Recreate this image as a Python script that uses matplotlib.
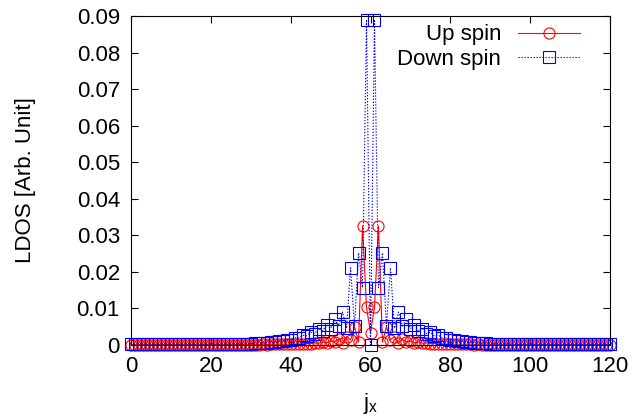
"""LDOS along j_x for up and down spin (gnuplot style figure)."""

import matplotlib
matplotlib.use("Agg")
import matplotlib.pyplot as plt
import numpy as np

# site index along x
j_x = np.arange(0, 121)

# up spin LDOS
up_spin = [
    0.0001, 0.0001, 0.0001, 0.0001, 0.0001, 0.0001, 0.0001, 0.0001, 0.0001, 0.0001,
    0.0001, 0.0001, 0.0001, 0.0001, 0.0001, 0.0001, 0.0001, 0.0001, 0.0001, 0.0001,
    0.0001, 0.0001, 0.0001, 0.0001, 0.0001, 0.0001, 0.0001, 0.0001, 0.0001, 0.0001,
    0.0001, 0.0001, 0.0001, 0.0002, 0.0001, 0.0002, 0.0002, 0.0002, 0.0002, 0.0002,
    0.0002, 0.0002, 0.0003, 0.0003, 0.0004, 0.0004, 0.0006, 0.0005, 0.0008, 0.0006,
    0.0011, 0.0009, 0.0016, 0.0005, 0.0023, 0.0014, 0.0050, 0.0008, 0.0325, 0.0103,
    0.0034,
    0.0103, 0.0325, 0.0008, 0.0050, 0.0014, 0.0023, 0.0005, 0.0016, 0.0009, 0.0011,
    0.0006, 0.0008, 0.0005, 0.0006, 0.0004, 0.0004, 0.0003, 0.0003, 0.0002, 0.0002,
    0.0002, 0.0002, 0.0002, 0.0002, 0.0002, 0.0001, 0.0002, 0.0001, 0.0001, 0.0001,
    0.0001, 0.0001, 0.0001, 0.0001, 0.0001, 0.0001, 0.0001, 0.0001, 0.0001, 0.0001,
    0.0001, 0.0001, 0.0001, 0.0001, 0.0001, 0.0001, 0.0001, 0.0001, 0.0001, 0.0001,
    0.0001, 0.0001, 0.0001, 0.0001, 0.0001, 0.0001, 0.0001, 0.0001, 0.0001, 0.0001,
]

# down spin LDOS
down_spin = [
    0.0002, 0.0002, 0.0002, 0.0002, 0.0002, 0.0002, 0.0002, 0.0002, 0.0002, 0.0002,
    0.0002, 0.0002, 0.0002, 0.0002, 0.0002, 0.0002, 0.0002, 0.0002, 0.0002, 0.0002,
    0.0002, 0.0002, 0.0002, 0.0002, 0.0002, 0.0003, 0.0003, 0.0003, 0.0003, 0.0004,
    0.0004, 0.0005, 0.0005, 0.0006, 0.0006, 0.0008, 0.0008, 0.0011, 0.0011, 0.0015,
    0.0014, 0.0020, 0.0019, 0.0027, 0.0025, 0.0035, 0.0031, 0.0045, 0.0038, 0.0056,
    0.0045, 0.0070, 0.0052, 0.0090, 0.0046, 0.0211, 0.0052, 0.0252, 0.0157, 0.0890,
    0.0,
    0.0890, 0.0157, 0.0252, 0.0052, 0.0211, 0.0046, 0.0090, 0.0052, 0.0070, 0.0045,
    0.0056, 0.0038, 0.0045, 0.0031, 0.0035, 0.0025, 0.0027, 0.0019, 0.0020, 0.0014,
    0.0015, 0.0011, 0.0011, 0.0008, 0.0008, 0.0006, 0.0006, 0.0005, 0.0005, 0.0004,
    0.0004, 0.0003, 0.0003, 0.0003, 0.0003, 0.0002, 0.0002, 0.0002, 0.0002, 0.0002,
    0.0002, 0.0002, 0.0002, 0.0002, 0.0002, 0.0002, 0.0002, 0.0002, 0.0002, 0.0002,
    0.0002, 0.0002, 0.0002, 0.0002, 0.0002, 0.0002, 0.0002, 0.0002, 0.0002, 0.0002,
]

x_ticks = [0, 20, 40, 60, 80, 100, 120]
y_ticks = [0, 0.01, 0.02, 0.03, 0.04, 0.05, 0.06, 0.07, 0.08, 0.09]
y_tick_labels = ["0", "0.01", "0.02", "0.03", "0.04", "0.05", "0.06", "0.07", "0.08", "0.09"]

plt.rcParams["font.family"] = ["Liberation Sans", "DejaVu Sans"]
plt.rcParams["font.size"] = 16

fig = plt.figure(figsize=(6.34, 4.2), dpi=100)
ax = fig.add_axes([131 / 634, 1 - 345 / 420, 479 / 634, 329 / 420])

ax.plot(j_x, up_spin, color="#ff0000", linestyle="-", linewidth=0.8,
        marker="o", markersize=8, markerfacecolor="none",
        markeredgewidth=0.8, clip_on=False, label="Up spin")
ax.plot(j_x, down_spin, color="#0000ff", linestyle=(0, (1.2, 1.5)), linewidth=0.8,
        marker="s", markersize=8, markerfacecolor="none",
        markeredgewidth=0.8, clip_on=False, label="Down spin")

ax.set_xlim(0, 120)
ax.set_ylim(0, 0.09)
ax.set_xticks(x_ticks)
ax.set_yticks(y_ticks)
ax.set_yticklabels(y_tick_labels)

# gnuplot look: inward ticks on all four sides
ax.tick_params(direction="in", length=5, width=0.8, top=True, right=True, pad=8)
for spine in ax.spines.values():
    spine.set_linewidth(0.8)

ax.set_ylabel("LDOS [Arb. Unit]")
ax.yaxis.set_label_coords(-0.198, 0.5)
ax.set_xlabel(r"$\mathregular{j_x}$")
ax.xaxis.set_label_coords(0.5, -0.14)

# right aligned labels with the sample after them
leg = ax.legend(loc="upper right", markerfirst=False, frameon=False,
                handlelength=2.8, handletextpad=0.75, labelspacing=0.15,
                borderaxespad=0.2, bbox_to_anchor=(0.965, 1.015))

fig.savefig("out.png", dpi=100)
plt.close(fig)
